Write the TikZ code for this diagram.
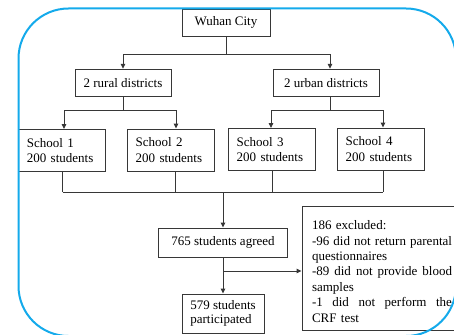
\documentclass[tikz,border=0pt]{standalone}
\usepackage{fontspec}
\setmainfont{Liberation Serif}
\usetikzlibrary{arrows.meta}
\definecolor{bdr}{RGB}{20,170,235}
\definecolor{ln}{RGB}{55,55,55}
\begin{document}
\begin{tikzpicture}[x=1pt,y=-1pt,
  box/.style={draw=ln, line width=0.9pt, fill=white, inner sep=0pt, font=\fontsize{13}{15.4}\selectfont},
  sbox/.style={box, minimum width=87pt, minimum height=42pt, text width=71pt, inner xsep=8pt, align=left},
  con/.style={draw=ln, line width=0.9pt},
  arr/.style={con, -{Triangle[length=5pt,width=4.5pt]}},
  bframe/.style={draw=bdr, line width=2pt, rounded corners=50pt}]
\useasboundingbox (0,0) rectangle (454,334);
\begin{scope}
\clip (0,0) rectangle (454,334);
% nodes
\node[box, minimum width=88pt, minimum height=27pt] (wuhan) at (226,22.7) {Wuhan City};
\node[box, minimum width=96pt, minimum height=27.5pt] (rural) at (123,83) {2 rural districts};
\node[box, minimum width=106pt, minimum height=27.5pt] (urban) at (326,83) {2 urban districts};
\node[sbox] (s1) at (62.4,150.5) {School 1\\200 students};
\node[sbox] (s2) at (171.2,150) {School 2\\200 students};
\node[sbox] (s3) at (272.2,149.5) {School 3\\200 students};
\node[sbox] (s4) at (381.2,149) {School 4\\200 students};
\node[box, minimum width=129pt, minimum height=29pt] (agreed) at (223,242.5) {765 students agreed};
\node[box, minimum width=82pt, minimum height=39pt, align=left, font=\fontsize{13}{13.8}\selectfont] (part) at (223,313.5) {579 students\\participated};
\node[box, minimum width=160pt, minimum height=124pt, text width=140pt, inner xsep=10pt, align=left] (excl) at (382,268) {\rule{0pt}{16pt}186 excluded:\\
\makebox[140pt][l]{-96\hfill did\hfill not\hfill return\hfill parental}\\
questionnaires\\
\makebox[140pt][l]{-89\hfill did\hfill not\hfill provide\hfill blood}\\
samples\\
\makebox[140pt][l]{-1\hfill did\hfill not\hfill perform\hfill the}\\
CRF test};
% junctions
\coordinate (wj) at (226,54.3);
\coordinate (rl) at (64,110);
\coordinate (rr) at (176,110);
\coordinate (uj) at (330,110);
\coordinate (ul) at (271,110);
\coordinate (ur) at (383,110);
\coordinate (m1) at (62.7,192);
\coordinate (m2) at (175,192);
\coordinate (m3) at (272.3,192);
\coordinate (m4) at (383.3,192);
\coordinate (mj) at (223,192);
\coordinate (br) at (223,271);
% connectors
\draw[con] (wuhan) -- (wj);
\draw[arr] (wj) -| (rural);
\draw[arr] (wj) -| (uj |- urban.north);
\draw[con] (rural) -- (rural |- rl);
\draw[con] (rl) -- (rr);
\draw[arr] (rl) -- (rl |- s1.north);
\draw[arr] (rr) -- (rr |- s2.north);
\draw[con] (uj |- urban.south) -- (uj);
\draw[con] (ul) -- (ur);
\draw[arr] (ul) -- (ul |- s3.north);
\draw[arr] (ur) -- (ur |- s4.north);
\draw[con] (m1 |- s1.south) -- (m1);
\draw[con] (m2 |- s2.south) -- (m2);
\draw[con] (m3 |- s3.south) -- (m3);
\draw[con] (m4 |- s4.south) -- (m4);
\draw[con] (m1) -- (m4);
\draw[arr] (mj) -- (agreed);
\draw[arr] (agreed) -- (part);
\draw[arr] (br) -- (br -| excl.west);
% blue frame
\draw[bframe] (18.5,8.5) rectangle (456,336);
\end{scope}
\end{tikzpicture}
\end{document}
